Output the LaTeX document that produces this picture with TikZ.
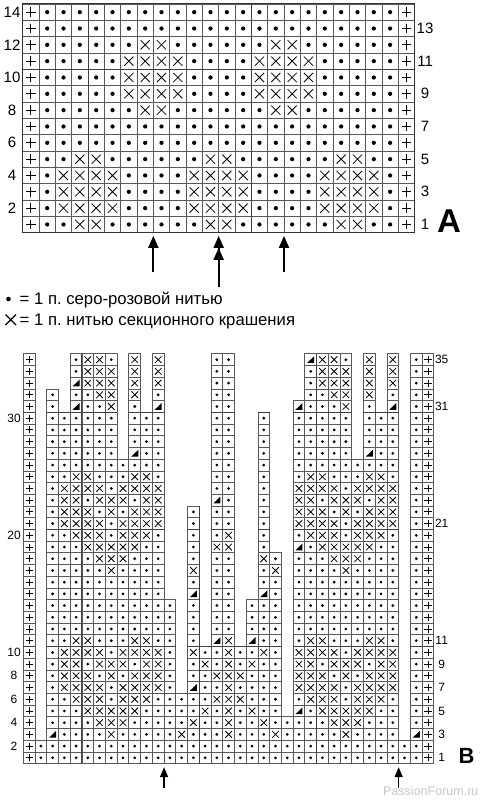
\documentclass[tikz,border=0pt]{standalone}
\usepackage{fontspec}
\setmainfont{Liberation Sans}
\usetikzlibrary{arrows.meta}
\frenchspacing

\tikzset{
  gridline/.style={draw=black!65, line width=0.8pt},
  tenline/.style={black!75, line width=1pt},
  plusline/.style={line width=1.1pt},
  numA/.style={font=\fontsize{15}{15}\selectfont, inner sep=0pt},
  numB/.style={font=\fontsize{12}{12}\selectfont, inner sep=0pt},
  legtext/.style={font=\fontsize{16.7}{16.7}\selectfont, inner sep=0pt, anchor=base west},
  pics/kp/.style={code={
    \draw[gridline] (-.5,-.5) rectangle (.5,.5);
    \draw[plusline] (-.3,0) -- (.3,0) (0,-.3) -- (0,.3);}},
  pics/kd/.style={code={
    \draw[gridline] (-.5,-.5) rectangle (.5,.5);
    \fill (0,0) circle[radius=.13];}},
  pics/kx/.style={code={
    \draw[gridline] (-.5,-.5) rectangle (.5,.5);
    \draw[line width=0.8pt] (-.28,-.28) -- (.28,.28) (-.28,.28) -- (.28,-.28);}},
  pics/kt/.style={code={
    \draw[gridline] (-.5,-.5) rectangle (.5,.5);
    \fill (-.3,.28) -- (.3,.28) -- (.3,-.3) -- cycle;}},
  pics/ko/.style={code={}},
}

\begin{document}
\begin{tikzpicture}[x=1pt, y=-1pt]
\useasboundingbox (0,0) rectangle (486,800);

% chart A
\begin{scope}[shift={(22.7,4)}, x=16.33pt, y=-16.33pt]
  \foreach \row [count=\i] in {
    {p,d,d,d,d,d,d,d,d,d,d,d,d,d,d,d,d,d,d,d,d,d,d,p},
    {p,d,d,d,d,d,d,d,d,d,d,d,d,d,d,d,d,d,d,d,d,d,d,p},
    {p,d,d,d,d,d,d,x,x,d,d,d,d,d,d,x,x,d,d,d,d,d,d,p},
    {p,d,d,d,d,d,x,x,x,x,d,d,d,d,x,x,x,x,d,d,d,d,d,p},
    {p,d,d,d,d,d,x,x,x,x,d,d,d,d,x,x,x,x,d,d,d,d,d,p},
    {p,d,d,d,d,d,x,x,x,x,d,d,d,d,x,x,x,x,d,d,d,d,d,p},
    {p,d,d,d,d,d,d,x,x,d,d,d,d,d,d,x,x,d,d,d,d,d,d,p},
    {p,d,d,d,d,d,d,d,d,d,d,d,d,d,d,d,d,d,d,d,d,d,d,p},
    {p,d,d,d,d,d,d,d,d,d,d,d,d,d,d,d,d,d,d,d,d,d,d,p},
    {p,d,d,x,x,d,d,d,d,d,d,x,x,d,d,d,d,d,d,x,x,d,d,p},
    {p,d,x,x,x,x,d,d,d,d,x,x,x,x,d,d,d,d,x,x,x,x,d,p},
    {p,d,x,x,x,x,d,d,d,d,x,x,x,x,d,d,d,d,x,x,x,x,d,p},
    {p,d,x,x,x,x,d,d,d,d,x,x,x,x,d,d,d,d,x,x,x,x,d,p},
    {p,d,d,x,x,d,d,d,d,d,d,x,x,d,d,d,d,d,d,x,x,d,d,p}}{
    \foreach \s [count=\c] in \row
      \pic at (\c-.5,\i-.5) {k\s};
  }
  \draw[tenline] (4,0) -- (4,14) (14,0) -- (14,14) (0,4) -- (24,4);
  \draw[black!80, line width=1pt] (0,0) rectangle (24,14);
  \foreach \n [count=\k] in {14,12,...,2}
    \node[numA] (lA\n) at (-.655,2*\k-1.5) {\n};
  \foreach \n [count=\k] in {13,11,...,1}
    \node[numA] (rA\n) at (24.64,2*\k-.5) {\n};
  \node[font=\bfseries\fontsize{33}{33}\selectfont, inner sep=0pt, anchor=base] (chA) at (26.1,14) {A};
  % arrows under A
  \coordinate (aAs1) at (8,16.4);  \coordinate (aAe1) at (8,14.2);
  \coordinate (aAs2) at (12,17.35); \coordinate (aAe2) at (12,14.2);
  \coordinate (aAs3) at (16,16.4); \coordinate (aAe3) at (16,14.2);
  \draw[line width=2pt, -{Triangle[width=10pt,length=12pt]}] (aAs1) -- (aAe1);
  \draw[line width=2pt, -{Triangle[width=10pt,length=12pt] Triangle[width=10pt,length=12pt]}] (aAs2) -- (aAe2);
  \draw[line width=2pt, -{Triangle[width=10pt,length=12pt]}] (aAs3) -- (aAe3);
\end{scope}

% legend
\fill (8.5,299) circle[radius=2.3];
\draw[line width=1.1pt] (5.5,314.5) -- (16,325) (5.5,325) -- (16,314.5);
\node[legtext] (leg1) at (19.5,304.5) {= 1 п. серо-розовой нитью};
\node[legtext] (leg2) at (19.5,325.5) {= 1 п. нитью секционного крашения};

% chart B
\begin{scope}[shift={(23.3,353.8)}, x=11.73pt, y=-11.71pt, plusline/.style={line width=0.85pt}]
  \foreach \row [count=\i] in {
    {p,o,o,o,d,x,x,d,o,x,o,x,o,o,o,o,d,d,o,o,o,o,o,o,t,x,x,d,o,x,o,x,o,d,p},
    {p,o,o,o,d,x,x,x,o,x,o,x,o,o,o,o,d,d,o,o,o,o,o,o,d,x,x,x,o,x,o,x,o,d,p},
    {p,o,o,o,t,x,x,x,o,x,o,x,o,o,o,o,d,d,o,o,o,o,o,o,d,x,x,x,o,x,o,x,o,d,p},
    {p,o,d,o,d,d,x,x,o,x,o,d,o,o,o,o,d,d,o,o,o,o,o,o,d,d,x,x,o,x,o,d,o,d,p},
    {p,o,d,o,t,d,d,x,o,d,o,t,o,o,o,o,d,d,o,o,o,o,o,t,d,d,d,x,o,d,o,t,o,d,p},
    {p,o,d,d,d,d,d,d,o,d,d,d,o,o,o,o,d,d,o,o,d,o,o,d,d,d,d,d,o,d,d,d,o,d,p},
    {p,o,d,d,d,d,d,d,o,d,d,d,o,o,o,o,d,d,o,o,d,o,o,d,d,d,d,d,o,d,d,d,o,d,p},
    {p,o,d,d,d,d,d,d,o,d,d,d,o,o,o,o,d,d,o,o,d,o,o,d,d,d,d,d,o,d,d,d,o,d,p},
    {p,o,d,d,d,d,d,d,o,t,d,d,o,o,o,o,d,d,o,o,d,o,o,d,d,d,d,d,o,t,d,d,o,d,p},
    {p,o,d,d,d,d,d,d,d,d,d,d,o,o,o,o,d,d,o,o,d,o,o,d,d,d,d,d,d,d,d,d,o,d,p},
    {p,o,d,d,x,x,d,d,d,x,x,d,o,o,o,o,d,d,o,o,d,o,o,d,x,x,d,d,d,x,x,d,o,d,p},
    {p,o,d,x,x,x,x,d,x,x,x,x,o,o,o,o,d,d,o,o,d,o,o,x,x,x,x,d,x,x,x,x,o,d,p},
    {p,o,d,x,x,d,x,x,x,d,x,x,o,o,o,o,t,d,o,o,d,o,o,x,x,d,x,x,x,d,x,x,o,d,p},
    {p,o,d,x,x,x,d,x,d,x,x,x,o,o,d,o,d,d,o,o,d,o,o,x,x,x,d,x,d,x,x,x,o,d,p},
    {p,o,d,x,x,x,x,d,x,x,x,x,o,o,d,o,d,d,o,o,d,o,o,x,x,x,x,d,x,x,x,x,o,d,p},
    {p,o,d,d,x,x,x,d,x,x,x,d,o,o,d,o,d,x,o,o,d,o,o,d,x,x,x,d,x,x,x,d,o,d,p},
    {p,o,d,d,d,x,x,x,x,x,d,d,o,o,d,o,x,x,o,o,d,o,o,t,d,x,x,x,x,x,d,d,o,d,p},
    {p,o,d,d,d,d,x,x,x,d,d,d,o,o,d,o,d,d,o,o,x,d,o,d,d,d,x,x,x,d,d,d,o,d,p},
    {p,o,d,d,d,d,d,x,d,d,d,d,o,o,x,o,d,d,o,o,d,x,o,d,d,d,d,x,d,d,d,d,o,d,p},
    {p,o,d,d,d,d,d,d,d,d,d,d,o,o,d,o,d,d,o,o,d,d,o,d,d,d,d,d,d,d,d,d,o,d,p},
    {p,o,d,d,d,d,d,d,d,d,d,d,o,o,t,o,d,d,o,o,t,d,o,d,d,d,d,d,d,d,d,d,o,d,p},
    {p,o,d,d,d,d,d,d,d,d,d,d,d,o,d,o,d,d,o,d,d,d,o,d,d,d,d,d,d,d,d,d,o,d,p},
    {p,o,d,d,d,d,d,d,d,d,d,d,d,o,d,o,d,d,o,d,d,d,o,d,d,d,d,d,d,d,d,d,o,d,p},
    {p,o,d,d,d,d,d,d,d,d,d,d,d,o,d,o,d,d,o,d,d,d,o,d,d,d,d,d,d,d,d,d,o,d,p},
    {p,o,d,d,x,x,d,d,d,x,x,d,d,o,d,o,t,x,o,t,d,d,o,d,x,x,d,d,d,x,x,d,o,d,p},
    {p,o,d,x,x,x,x,d,x,x,x,x,d,o,x,d,d,x,d,d,x,d,o,x,x,x,x,d,x,x,x,x,o,d,p},
    {p,o,d,x,x,d,x,x,x,d,x,x,d,o,d,x,d,x,d,x,d,d,o,x,x,d,x,x,x,d,x,x,o,d,p},
    {p,o,d,x,x,x,d,x,d,x,x,x,d,o,d,d,x,x,x,d,d,d,o,x,x,x,d,x,d,x,x,x,o,d,p},
    {p,o,d,x,x,x,x,d,x,x,x,x,d,o,t,d,d,x,d,d,d,d,o,x,x,x,x,d,x,x,x,x,o,d,p},
    {p,o,d,d,x,x,x,d,x,x,x,d,d,d,d,d,x,x,x,d,d,d,o,d,x,x,x,d,x,x,x,d,o,d,p},
    {p,o,d,d,d,x,x,x,x,x,d,d,d,d,d,x,d,x,d,x,d,d,o,t,d,x,x,x,x,x,d,d,o,d,p},
    {p,o,d,d,d,d,x,x,x,d,d,d,d,d,x,d,d,x,d,d,x,d,d,d,d,d,x,x,x,d,d,d,o,d,p},
    {p,o,t,d,d,d,d,x,d,d,d,d,d,x,d,d,d,x,d,d,d,x,d,d,d,d,d,x,d,d,d,d,o,t,p},
    {p,d,d,d,d,d,d,d,d,d,d,d,d,d,d,d,d,d,d,d,d,d,d,d,d,d,d,d,d,d,d,d,d,d,p},
    {p,d,d,d,d,d,d,d,d,d,d,d,d,d,d,d,d,d,d,d,d,d,d,d,d,d,d,d,d,d,d,d,d,d,p}}{
    \foreach \s [count=\c] in \row
      \pic at (\c-.5,\i-.5) {k\s};
  }
  \draw[tenline] (5,0) -- (5,35) (15,13) -- (15,35) (25,0) -- (25,35);
  \draw[tenline] (0,25) -- (1,25) (2,25) -- (13,25) (14,25) -- (22,25) (23,25) -- (32,25) (33,25) -- (35,25);
  \draw[tenline] (0,15) -- (1,15) (2,15) -- (12,15) (14,15) -- (15,15) (16,15) -- (18,15)
    (20,15) -- (21,15) (23,15) -- (32,15) (33,15) -- (35,15);
  \draw[tenline] (0,5) -- (1,5) (2,5) -- (8,5) (9,5) -- (12,5) (16,5) -- (18,5)
    (20,5) -- (21,5) (23,5) -- (28,5) (29,5) -- (32,5) (33,5) -- (35,5);
  \foreach \n/\y in {30/5.5, 20/15.5, 10/25.5, 8/27.5, 6/29.5, 4/31.5, 2/33.5}
    \node[numB] (lB\n) at (-.79,\y) {\n};
  \foreach \n/\y in {35/.5, 31/4.5, 21/14.5, 11/24.5, 9/26.5, 7/28.5, 5/30.5, 3/32.5, 1/34.5}
    \node[numB] (rB\n) at (35.67,\y) {\n};
  \node[font=\bfseries\fontsize{22}{22}\selectfont, inner sep=0pt, anchor=base west] (chB) at (37.1,35) {B};
  % arrows under B
  \coordinate (aBs1) at (12,37.1); \coordinate (aBe1) at (12,35.3);
  \coordinate (aBs2) at (32,37.1); \coordinate (aBe2) at (32,35.3);
  \draw[line width=1.5pt, -{Triangle[width=8pt,length=10pt]}] (aBs1) -- (aBe1);
  \draw[line width=1.5pt, -{Triangle[width=8pt,length=10pt]}] (aBs2) -- (aBe2);
\end{scope}

\node[font=\fontsize{12.5}{12.5}\selectfont, text=black!22, inner sep=0pt, anchor=base west] (wmark) at (383,795) {PassionForum.ru};
\end{tikzpicture}
\end{document}
